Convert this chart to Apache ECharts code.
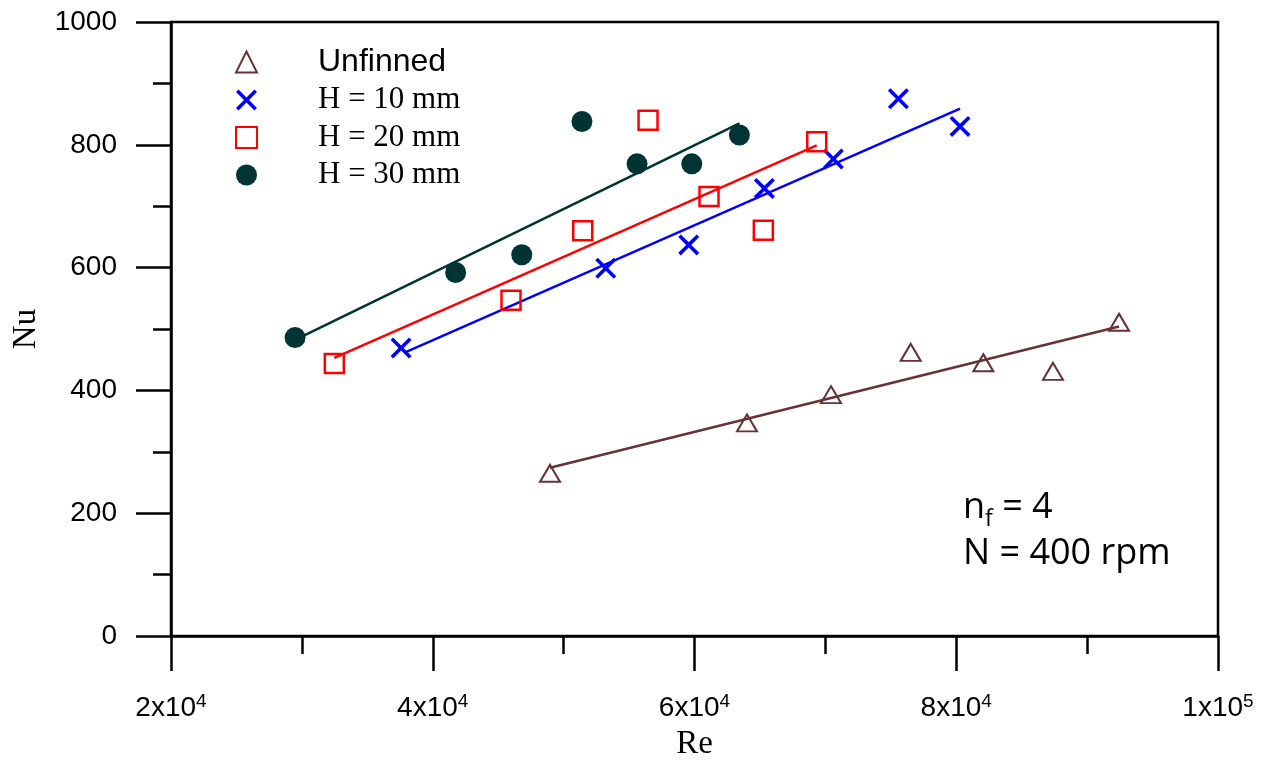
<!DOCTYPE html>
<html>
<head>
<meta charset="utf-8">
<script src="https://cdn.jsdelivr.net/npm/echarts@6/dist/echarts.min.js"></script>
<style>html,body{margin:0;padding:0;background:#fff;}#c{width:1270px;height:762px;}</style>
</head>
<body>
<div id="c"></div>
<script>
// ---- data ----
const seriesNames = ['Unfinned', 'H = 10 mm', 'H = 20 mm', 'H = 30 mm'];

const reUnfinned = [48960, 64010, 70430, 76520, 82070, 87390, 92440];
const nuUnfinned = [265, 347, 393, 462, 445, 431, 511];

const re10 = [37580, 53220, 59560, 65340, 70610, 75580, 80290];
const nu10 = [469, 599, 637, 729, 777, 875, 830];

const re20 = [32480, 45980, 51460, 56450, 61110, 65260, 69340];
const nu20 = [444, 547, 660, 840, 716, 661, 805];

const re30 = [29480, 41750, 46800, 51400, 55610, 59790, 63430];
const nu30 = [486, 592, 621, 838, 769, 769, 816];

// fitted trend lines (end points)
const fitUnfinnedRe = [48960, 92440], fitUnfinnedNu = [274, 504];
const fit10Re = [37800, 80290], fit10Nu = [461, 859];
const fit20Re = [32480, 69340], fit20Nu = [453, 799];
const fit30Re = [30110, 63430], fit30Nu = [489, 835];

// tick labels
const xTickValues = [20000, 40000, 60000, 80000, 100000];
const xTickMantissa = ['2', '4', '6', '8', '1'];
const xTickExponent = ['4', '4', '4', '4', '5'];

const colors = ['#663333', '#0000ff', '#ff0000', '#003333'];

function pairs(xs, ys) { return xs.map((x, i) => [x, ys[i]]); }

const xPath = 'path://M0,12L12,0L50,38L88,0L100,12L62,50L100,88L88,100L50,62L12,100L0,88L38,50Z';

const chart = echarts.init(document.getElementById('c'), null, {renderer: 'canvas'});

const option = {
  animation: false,
  backgroundColor: '#fff',
  grid: {left: 171, right: 52, top: 22, bottom: 126, show: true, borderColor: '#000', borderWidth: 2.5,
    backgroundColor: 'transparent', containLabel: false, outerBoundsMode: 'none'},
  xAxis: {
    type: 'value', min: 20000, max: 100000, interval: 20000,
    name: 'Re', nameLocation: 'middle', nameGap: 92,
    nameTextStyle: {fontFamily: 'Liberation Serif', fontSize: 33, color: '#000'},
    axisLine: {lineStyle: {color: '#000', width: 2.5}},
    axisTick: {inside: false, length: 35, lineStyle: {color: '#000', width: 2.5}},
    minorTick: {show: true, splitNumber: 2, length: 18, lineStyle: {color: '#000', width: 2.5}},
    splitLine: {show: false},
    axisLabel: {
      margin: 56, color: '#000',
      formatter: function (v) {
        const i = xTickValues.indexOf(v);
        if (i < 0) return '';
        return '{b|' + xTickMantissa[i] + 'x10}{s|' + xTickExponent[i] + '}';
      },
      rich: {
        b: {fontFamily: 'Liberation Sans', fontSize: 28, color: '#000'},
        s: {fontFamily: 'Liberation Sans', fontSize: 19, color: '#000', verticalAlign: 'top', padding: [0, 0, 14, 0]}
      }
    }
  },
  yAxis: {
    type: 'value', min: 0, max: 1000, interval: 200,
    name: 'Nu', nameLocation: 'middle', nameGap: 128,
    nameTextStyle: {fontFamily: 'Liberation Serif', fontSize: 33, color: '#000'},
    axisLine: {lineStyle: {color: '#000', width: 2.5}},
    axisTick: {inside: false, length: 35, lineStyle: {color: '#000', width: 2.5}},
    minorTick: {show: true, splitNumber: 2, length: 18, lineStyle: {color: '#000', width: 2.5}},
    splitLine: {show: false},
    axisLabel: {margin: 54, color: '#000', fontFamily: 'Liberation Sans', fontSize: 28,
      formatter: function (v) { return String(v); }}
  },
  legend: {
    orient: 'vertical', left: 235, top: 46, padding: 0,
    itemWidth: 21, itemHeight: 21, itemGap: 6.5,
    data: seriesNames,
    formatter: function (n) { return n === 'Unfinned' ? '{s|' + n + '}' : '{r|' + n + '}'; },
    textStyle: {
      padding: [0, 0, 0, 56],
      rich: {
        s: {fontFamily: 'Liberation Sans', fontSize: 32, color: '#000', lineHeight: 28},
        r: {fontFamily: 'Liberation Serif', fontSize: 31, color: '#000', lineHeight: 28}
      }
    }
  },
  graphic: [{
    type: 'text', left: 963, top: 490,
    style: {
      text: '{a|n}{sub|f}{a| = 4}\n{a|N = 400 rpm}',
      rich: {
        a: {fontFamily: 'Open Sans', fontSize: 36, fill: '#000', lineHeight: 46},
        sub: {fontFamily: 'Open Sans', fontSize: 23, fill: '#000', verticalAlign: 'bottom'}
      }
    }
  }],
  series: [
    {name: 'Unfinned fit', type: 'line', data: pairs(fitUnfinnedRe, fitUnfinnedNu), showSymbol: false, lineStyle: {color: colors[0], width: 2.5}, z: 1},
    {name: 'H = 10 mm fit', type: 'line', data: pairs(fit10Re, fit10Nu), showSymbol: false, lineStyle: {color: colors[1], width: 2.5}, z: 1},
    {name: 'H = 20 mm fit', type: 'line', data: pairs(fit20Re, fit20Nu), showSymbol: false, lineStyle: {color: colors[2], width: 2.5}, z: 1},
    {name: 'H = 30 mm fit', type: 'line', data: pairs(fit30Re, fit30Nu), showSymbol: false, lineStyle: {color: colors[3], width: 2.5}, z: 1},
    {name: seriesNames[0], type: 'scatter', data: pairs(reUnfinned, nuUnfinned), symbol: 'triangle', symbolSize: [20, 17],
      itemStyle: {color: 'rgba(0,0,0,0)', borderColor: colors[0], borderWidth: 2, opacity: 1}, z: 3},
    {name: seriesNames[1], type: 'scatter', data: pairs(re10, nu10), symbol: xPath, symbolSize: 21,
      itemStyle: {color: colors[1], opacity: 1}, z: 3},
    {name: seriesNames[2], type: 'scatter', data: pairs(re20, nu20), symbol: 'rect', symbolSize: 19,
      itemStyle: {color: 'rgba(0,0,0,0)', borderColor: colors[2], borderWidth: 2.5, opacity: 1}, z: 3},
    {name: seriesNames[3], type: 'scatter', data: pairs(re30, nu30), symbol: 'circle', symbolSize: 21,
      itemStyle: {color: colors[3], opacity: 1}, z: 3}
  ]
};
chart.setOption(option);
</script>
</body>
</html>
